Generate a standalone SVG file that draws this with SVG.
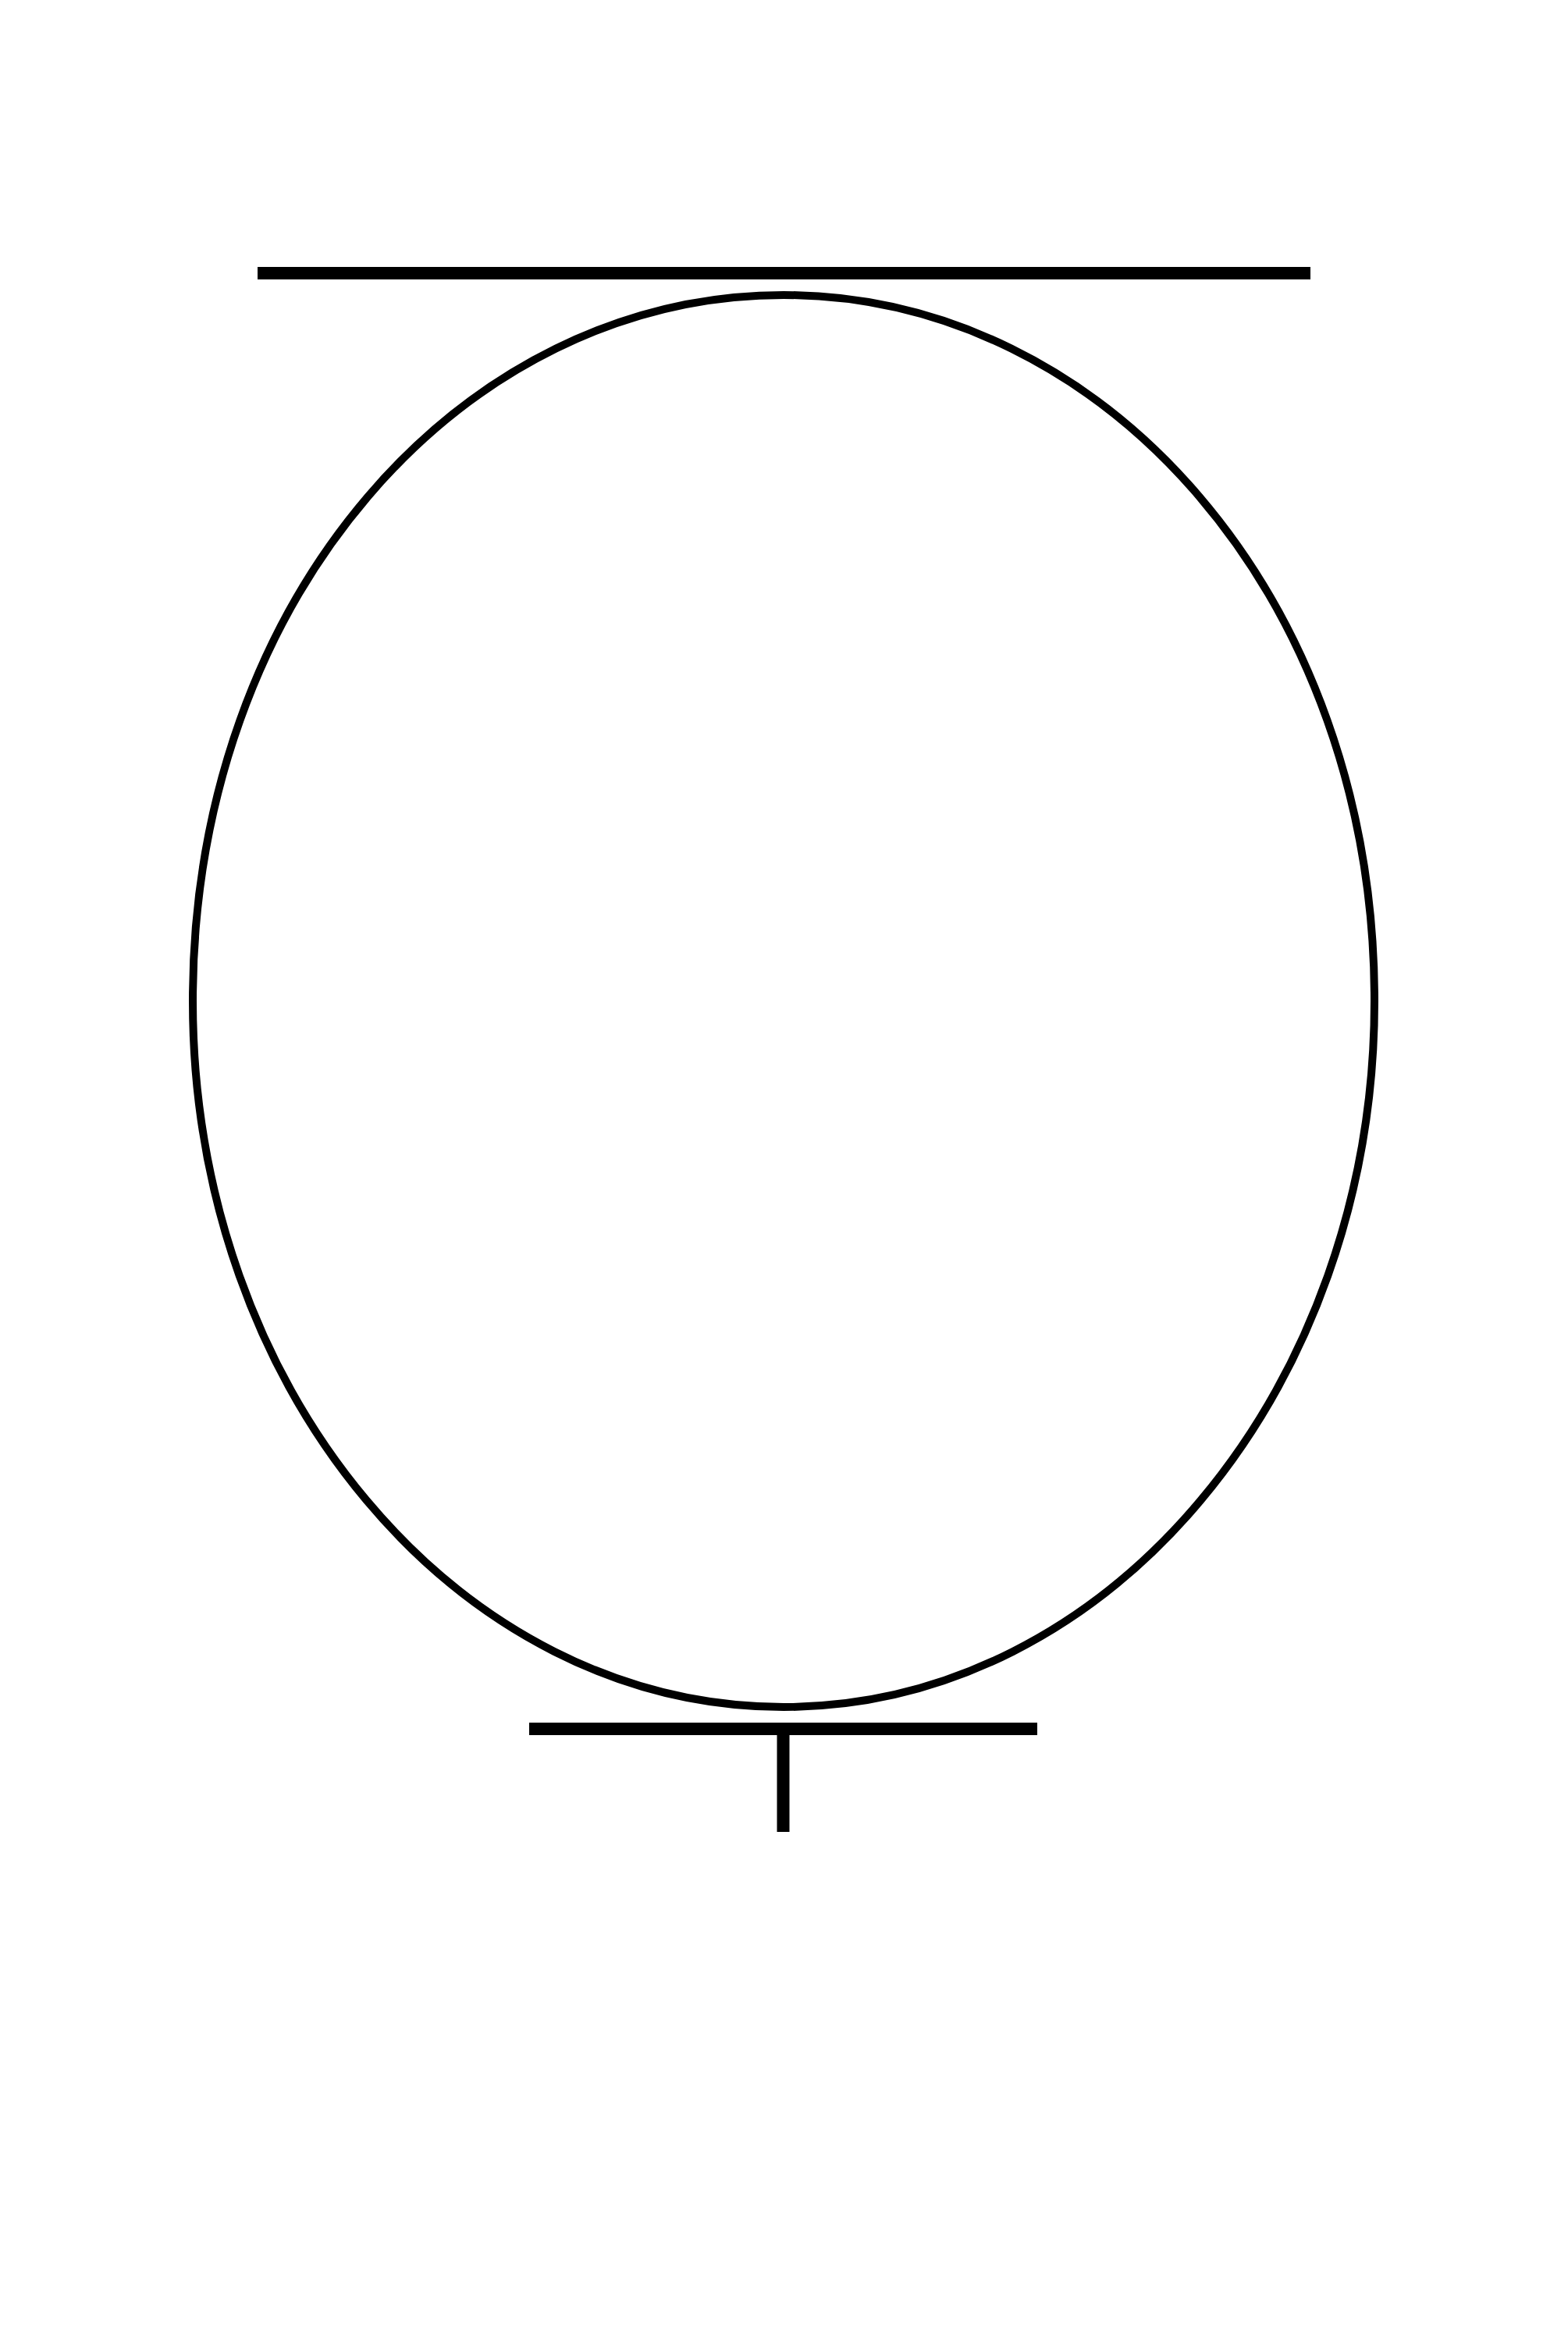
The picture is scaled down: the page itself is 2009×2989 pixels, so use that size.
<svg xmlns="http://www.w3.org/2000/svg" width="2009" height="2989" viewBox="0 0 2009 2989">
<style>
.bar{stroke:#000;stroke-width:16;fill:none}
.body{stroke:#000;stroke-width:10;fill:none}
</style>
<rect width="2009" height="2989" fill="#fff"/>
<g id="top-plate"><line class="bar" x1="330" y1="350" x2="1679" y2="350"/></g>
<g id="ellipse-node"><path class="body" d="M247,1282.5 C247,765 593,378 1004,378 C1415,378 1761,765 1761,1282.5 C1761,1782 1420,2187 1004,2187 C588,2187 247,1782 247,1282.5 Z"/></g>
<g id="connectors">
<line class="bar" x1="678" y1="2215" x2="1329" y2="2215"/>
<line class="bar" x1="1003.5" y1="2215" x2="1003.5" y2="2347"/>
</g>
</svg>
